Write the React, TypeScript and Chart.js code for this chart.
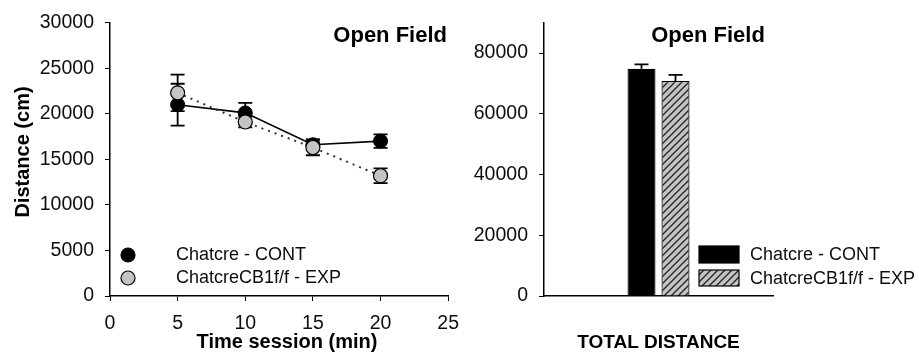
import React, { useEffect, useRef } from "react";
import { Chart, registerables } from "chart.js";

Chart.register(...registerables);

// Distance per 5-minute session
const sessionMinutes = [5, 10, 15, 20];
const contDistance = [21000, 20100, 16600, 17000];
const contError = [2300, 1100, 600, 750];
const expDistance = [22300, 19100, 16300, 13200];
const expError = [2000, 600, 850, 800];

// Total distance over the whole session
const totalLabels = ["TOTAL DISTANCE"];
const totalCont = [74800];
const totalContError = [1500];
const totalExp = [70800];
const totalExpError = [2000];
const totalTicks = [0, 20000, 40000, 60000, 80000];

const seriesNames = ["Chatcre - CONT", "ChatcreCB1f/f - EXP"];
const panelTitle = "Open Field";
const xAxisTitle = "Time session (min)";
const yAxisTitle = "Distance (cm)";

const FONT = "'Liberation Sans', Arial, sans-serif";
const INK = "#0d0d0d";
const GREY_FILL = "#c4c4c4";

const plainNumber = (v: any) => String(v);

function makeHatch(): CanvasPattern | string {
  const s = 7;
  const c = document.createElement("canvas");
  c.width = s;
  c.height = s;
  const g = c.getContext("2d");
  if (!g) return GREY_FILL;
  g.fillStyle = GREY_FILL;
  g.fillRect(0, 0, s, s);
  g.strokeStyle = "#222";
  g.lineWidth = 1.3;
  g.beginPath();
  g.moveTo(0, s);
  g.lineTo(s, 0);
  g.moveTo(-1, 1);
  g.lineTo(1, -1);
  g.moveTo(s - 1, s + 1);
  g.lineTo(s + 1, s - 1);
  g.stroke();
  return g.createPattern(c, "repeat") || GREY_FILL;
}

// Draws error bars stored on each dataset as `errors` (symmetric, or upward only)
const errorBarPlugin = {
  id: "errorBars",
  beforeDatasetsDraw(chart: any) {
    const ctx = chart.ctx;
    const yScale = chart.scales.y;
    chart.data.datasets.forEach((ds: any, i: number) => {
      const errs: number[] | undefined = ds.errors;
      if (!errs) return;
      const meta = chart.getDatasetMeta(i);
      const cap = ds.capHalfWidth ?? 7;
      ctx.save();
      ctx.strokeStyle = "#000";
      ctx.lineWidth = 1.8;
      meta.data.forEach((el: any, j: number) => {
        const raw = ds.data[j];
        const value = typeof raw === "object" ? raw.y : raw;
        const e = errs[j];
        const x = el.x;
        const yTop = yScale.getPixelForValue(value + e);
        const yBot = ds.errorUpOnly ? yScale.getPixelForValue(value) : yScale.getPixelForValue(value - e);
        ctx.beginPath();
        ctx.moveTo(x, yTop);
        ctx.lineTo(x, yBot);
        ctx.moveTo(x - cap, yTop);
        ctx.lineTo(x + cap, yTop);
        if (!ds.errorUpOnly) {
          ctx.moveTo(x - cap, yBot);
          ctx.lineTo(x + cap, yBot);
        }
        ctx.stroke();
      });
      ctx.restore();
    });
  },
};

// Panel heading, drawn inside the plot
function headingPlugin(x: number, y: number, align: CanvasTextAlign) {
  return {
    id: "heading",
    afterDraw(chart: any) {
      const ctx = chart.ctx;
      ctx.save();
      ctx.font = `bold 22px ${FONT}`;
      ctx.fillStyle = "#000";
      ctx.textAlign = align;
      ctx.textBaseline = "middle";
      ctx.fillText(panelTitle, x, y);
      ctx.restore();
    },
  };
}

// Axis titles of the time course
const axisTitlePlugin = {
  id: "axisTitles",
  afterDraw(chart: any) {
    const ctx = chart.ctx;
    ctx.save();
    ctx.font = `bold 20px ${FONT}`;
    ctx.fillStyle = "#000";
    ctx.textAlign = "center";
    ctx.textBaseline = "middle";
    ctx.fillText(xAxisTitle, 287, 342);
    ctx.translate(23, 152);
    ctx.rotate(-Math.PI / 2);
    ctx.fillText(yAxisTitle, 0, 0);
    ctx.restore();
  },
};

// Marker legend for the time course
const lineLegendPlugin = {
  id: "lineLegend",
  afterDraw(chart: any) {
    const ctx = chart.ctx;
    const rows = [
      { y: 255, fill: "#000" },
      { y: 278, fill: GREY_FILL },
    ];
    ctx.save();
    rows.forEach((r, i) => {
      ctx.beginPath();
      ctx.arc(128, r.y, 7, 0, Math.PI * 2);
      ctx.fillStyle = r.fill;
      ctx.fill();
      ctx.lineWidth = 1.2;
      ctx.strokeStyle = "#000";
      ctx.stroke();
      ctx.font = `18px ${FONT}`;
      ctx.fillStyle = INK;
      ctx.textAlign = "left";
      ctx.textBaseline = "middle";
      ctx.fillText(seriesNames[i], 176, r.y);
    });
    ctx.restore();
  },
};

// Box legend for the totals
function barLegendPlugin(hatch: CanvasPattern | string) {
  return {
    id: "barLegend",
    afterDraw(chart: any) {
      const ctx = chart.ctx;
      const rows = [
        { y: 246, h: 17, fill: "#000" as any },
        { y: 270, h: 16, fill: hatch as any },
      ];
      ctx.save();
      rows.forEach((r, i) => {
        ctx.fillStyle = r.fill;
        ctx.fillRect(229, r.y, 40, r.h);
        ctx.lineWidth = 1.2;
        ctx.strokeStyle = "#000";
        ctx.strokeRect(229, r.y, 40, r.h);
        ctx.font = `18px ${FONT}`;
        ctx.fillStyle = INK;
        ctx.textAlign = "left";
        ctx.textBaseline = "middle";
        ctx.fillText(seriesNames[i], 280, r.y + r.h / 2 + 1);
      });
      ctx.restore();
    },
  };
}

function TimeCourse() {
  const ref = useRef<HTMLCanvasElement>(null);
  useEffect(() => {
    if (!ref.current) return;
    const chart = new Chart(ref.current, {
      type: "line",
      data: {
        datasets: [
          {
            label: seriesNames[0],
            data: sessionMinutes.map((x, i) => ({ x, y: contDistance[i] })),
            errors: contError,
            borderColor: "#000",
            borderWidth: 1.6,
            backgroundColor: "#000",
            pointBackgroundColor: "#000",
            pointBorderColor: "#000",
            pointBorderWidth: 1,
            pointRadius: 7,
            order: 1,
          } as any,
          {
            label: seriesNames[1],
            data: sessionMinutes.map((x, i) => ({ x, y: expDistance[i] })),
            errors: expError,
            borderColor: "#333",
            borderWidth: 2,
            borderDash: [2, 5],
            backgroundColor: GREY_FILL,
            pointBackgroundColor: GREY_FILL,
            pointBorderColor: "#000",
            pointBorderWidth: 1.2,
            pointRadius: 7,
            order: 0,
          } as any,
        ],
      },
      options: {
        animation: false,
        responsive: false,
        layout: { padding: { left: 0, right: 20, top: 20.7, bottom: 0 } },
        plugins: { legend: { display: false }, tooltip: { enabled: false } },
        scales: {
          x: {
            type: "linear",
            min: 0,
            max: 25,
            ticks: {
              stepSize: 5,
              color: INK,
              font: { family: FONT, size: 19.5 },
              padding: 11,
              callback: plainNumber,
            },
            grid: { drawOnChartArea: false, drawTicks: true, tickLength: 5, color: "#000" },
            border: { display: true, color: "#000", width: 1.5 },
            afterFit(s: any) {
              s.height = 59;
            },
          },
          y: {
            min: 0,
            max: 30000,
            ticks: {
              stepSize: 5000,
              color: INK,
              font: { family: FONT, size: 19.5 },
              padding: 11,
              callback: plainNumber,
            },
            grid: { drawOnChartArea: false, drawTicks: true, tickLength: 5, color: "#000" },
            border: { display: true, color: "#000", width: 1.5 },
            afterFit(s: any) {
              s.width = 110;
            },
          },
        },
      } as any,
      plugins: [errorBarPlugin, axisTitlePlugin, headingPlugin(447, 36, "right"), lineLegendPlugin],
    });
    return () => chart.destroy();
  }, []);
  return (
    <canvas
      ref={ref}
      width={470}
      height={355}
      style={{ position: "absolute", left: 0, top: 0, width: 470, height: 355 }}
    />
  );
}

function Totals() {
  const ref = useRef<HTMLCanvasElement>(null);
  useEffect(() => {
    if (!ref.current) return;
    const hatch = makeHatch();
    const chart = new Chart(ref.current, {
      type: "bar",
      data: {
        labels: totalLabels,
        datasets: [
          {
            label: seriesNames[0],
            data: totalCont,
            errors: totalContError,
            errorUpOnly: true,
            backgroundColor: "#000",
            borderColor: "#000",
            borderWidth: 1.2,
            categoryPercentage: 0.297,
            barPercentage: 0.824,
          } as any,
          {
            label: seriesNames[1],
            data: totalExp,
            errors: totalExpError,
            errorUpOnly: true,
            backgroundColor: hatch,
            borderColor: "#000",
            borderWidth: 1.2,
            categoryPercentage: 0.297,
            barPercentage: 0.824,
          } as any,
        ],
      },
      options: {
        animation: false,
        responsive: false,
        layout: { padding: { left: 0, right: 146, top: 20, bottom: 0 } },
        plugins: { legend: { display: false }, tooltip: { enabled: false } },
        scales: {
          x: {
            type: "category",
            ticks: { color: "#000", font: { family: FONT, size: 19, weight: "bold" }, padding: 35 },
            grid: { drawOnChartArea: false, drawTicks: false, color: "#000" },
            border: { display: true, color: "#000", width: 1.5 },
            afterFit(s: any) {
              s.height = 59;
            },
          },
          y: {
            min: 0,
            max: 90000,
            ticks: { color: INK, font: { family: FONT, size: 19.5 }, padding: 11, callback: plainNumber },
            grid: { drawOnChartArea: false, drawTicks: true, tickLength: 5, color: "#000" },
            border: { display: true, color: "#000", width: 1.5 },
            afterBuildTicks(s: any) {
              s.ticks = totalTicks.map((value) => ({ value }));
            },
            afterFit(s: any) {
              s.width = 74;
            },
          },
        },
      } as any,
      plugins: [errorBarPlugin, headingPlugin(238, 36, "center"), barLegendPlugin(hatch)],
    });
    return () => chart.destroy();
  }, []);
  return (
    <canvas
      ref={ref}
      width={449}
      height={355}
      style={{ position: "absolute", left: 470, top: 0, width: 449, height: 355 }}
    />
  );
}

export default function App() {
  return (
    <div
      style={{
        position: "absolute",
        left: 0,
        top: 0,
        width: 919,
        height: 355,
        background: "#fff",
        overflow: "hidden",
      }}
    >
      <TimeCourse />
      <Totals />
    </div>
  );
}
